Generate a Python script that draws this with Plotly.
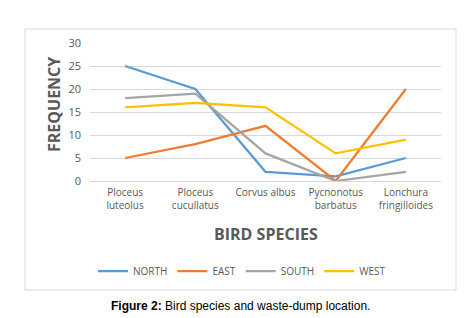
import plotly.graph_objects as go

categories = ["Ploceus<br>luteolus", "Ploceus<br>cucullatus", "Corvus albus", "Pycnonotus<br>barbatus", "Lonchura<br>fringilloides"]
north = [25, 20, 2, 1, 5]
east = [5, 8, 12, 0, 20]
south = [18, 19, 6, 0, 2]
west = [16, 17, 16, 6, 9]
series_names = ["NORTH", "EAST", "SOUTH", "WEST"]
colors = ["#5B9BD5", "#ED7D31", "#A5A5A5", "#FFC000"]

fig = go.Figure()
for name, vals, c in zip(series_names, [north, east, south, west], colors):
    fig.add_trace(go.Scatter(x=categories, y=vals, mode="lines", name=name,
                             line=dict(color=c, width=2.25)))

L, R, T, B = 82, 476 - 433, 35, 318 - 173
pw, ph = 476 - L - R, 318 - T - B

def px(x):
    return (x - L) / pw

def py(y):
    return (173 - y) / ph

fig.update_layout(
    width=476, height=318,
    margin=dict(l=L, r=R, t=T, b=B, autoexpand=False),
    paper_bgcolor="white", plot_bgcolor="white",
    font=dict(family="Open Sans", color="#595959", size=10),
    showlegend=True,
    legend=dict(orientation="h", x=px(234), xanchor="center", y=py(263), yanchor="middle",
                font=dict(size=10, color="#595959"), itemwidth=30, tracegroupgap=0),
    xaxis=dict(range=[-0.5, 4.5], showgrid=False, showline=False, ticks="",
               tickfont=dict(size=10, color="#595959"), ticklabelstandoff=4),
    yaxis=dict(range=[0, 30], dtick=5, showgrid=True, gridcolor="#D9D9D9", gridwidth=1,
               zeroline=True, zerolinecolor="#D9D9D9", zerolinewidth=1,
               showline=False, ticks="", tickfont=dict(size=11, color="#595959"),
               ticklabelstandoff=8),
)

fig.add_shape(type="rect", xref="paper", yref="paper",
              x0=px(17), x1=px(448), y0=py(282), y1=py(21),
              line=dict(color="#D9D9D9", width=1), layer="below")

fig.add_annotation(text="<b>FREQUENCY</b>", xref="paper", yref="paper",
                   x=px(46), y=py(97), xanchor="center", yanchor="middle",
                   textangle=-90, showarrow=False,
                   font=dict(size=16, color="#595959", family="Open Sans"))
fig.add_annotation(text="<b>BIRD SPECIES</b>", xref="paper", yref="paper",
                   x=px(258), y=py(226), xanchor="center", yanchor="middle", showarrow=False,
                   font=dict(size=16, color="#595959", family="Open Sans"))
fig.add_annotation(text="<b>Figure 2:</b> Bird species and waste-dump location.",
                   xref="paper", yref="paper", x=px(232), y=py(298),
                   xanchor="center", yanchor="middle", showarrow=False,
                   font=dict(size=12, color="black", family="Liberation Sans"))

fig.write_html("out.html")
